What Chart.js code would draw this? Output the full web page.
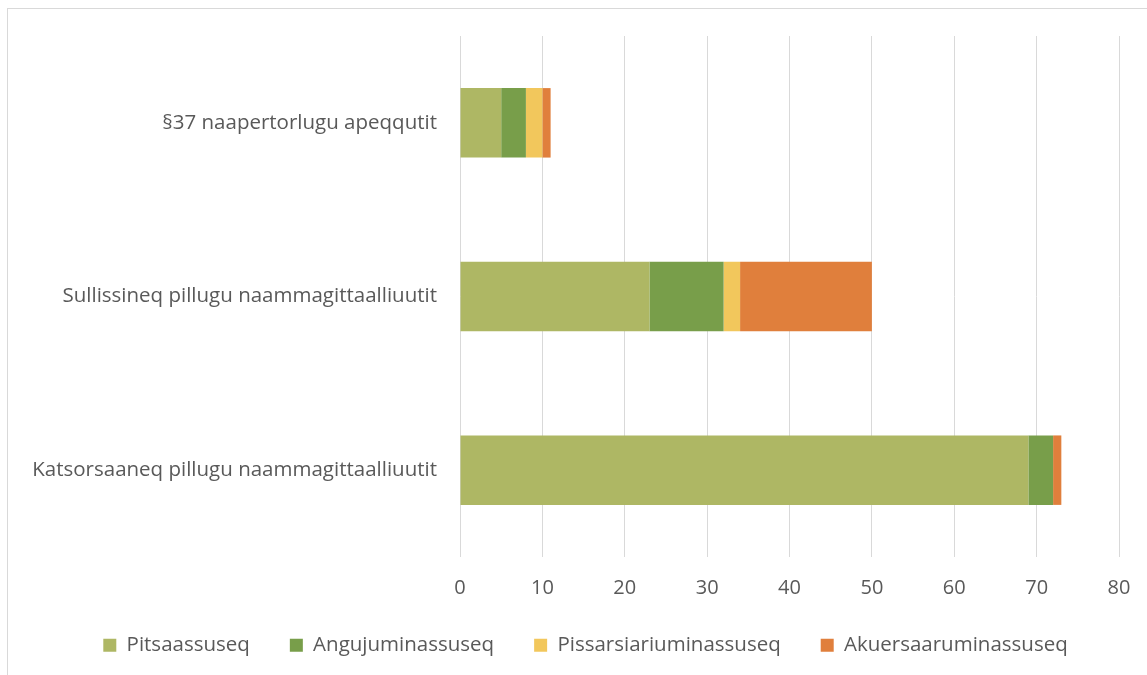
<!DOCTYPE html>
<html>
<head>
<meta charset="utf-8">
<script src="https://cdn.jsdelivr.net/npm/chart.js@4.4.0/dist/chart.umd.min.js"></script>
<style>
  html, body { margin: 0; padding: 0; background: #fff; overflow: hidden; }
  #frame {
    position: absolute; left: 7px; top: 8px;
    width: 1200px; height: 720px;
    border: 1px solid #d9d9d9;
  }
  #wrap { position: absolute; left: 0; top: 0; width: 1172px; height: 675px; }
</style>
</head>
<body>
<div id="frame"></div>
<div id="wrap"><canvas id="chart"></canvas></div>
<script>
// categories (top to bottom)
const categories = [
  "§37 naapertorlugu apeqqutit",
  "Sullissineq pillugu naammagittaalliuutit",
  "Katsorsaaneq pillugu naammagittaalliuutit"
]

// series values
const pitsaassuseq = [5, 23, 69]
const angujuminassuseq = [3, 9, 3]
const pissarsiariuminassuseq = [2, 2, 0]
const akuersaaruminassuseq = [1, 16, 1]

const xTicks = [0, 10, 20, 30, 40, 50, 60, 70, 80]

const textColor = "#595959"
const fontFamily = "'Open Sans', sans-serif"

// legend sits centred on the whole frame, a bit closer to the axis labels
const legendShift = {
  id: "legendShift",
  afterLayout(chart) {
    if (chart.legend) {
      chart.legend.top -= 5
      chart.legend.bottom -= 5
      chart.legend.left += 26
      chart.legend.right += 26
    }
  },
}

const ctx = document.getElementById("chart")
new Chart(ctx, {
  type: "bar",
  data: {
    labels: categories,
    datasets: [
      { label: "Pitsaassuseq", data: pitsaassuseq, backgroundColor: "#aeb764" },
      { label: "Angujuminassuseq", data: angujuminassuseq, backgroundColor: "#789e4a" },
      { label: "Pissarsiariuminassuseq", data: pissarsiariuminassuseq, backgroundColor: "#f2c75c" },
      { label: "Akuersaaruminassuseq", data: akuersaaruminassuseq, backgroundColor: "#e07f3c" },
    ],
  },
  options: {
    indexAxis: "y",
    responsive: true,
    maintainAspectRatio: false,
    animation: false,
    barPercentage: 0.4,
    categoryPercentage: 1,
    layout: { padding: { top: 36, right: 53, left: 0, bottom: 4.5 } },
    scales: {
      x: {
        stacked: true,
        min: 0,
        max: 80,
        afterBuildTicks: (scale) => {
          scale.ticks = xTicks.map((v) => ({ value: v }))
        },
        afterFit: (scale) => {
          scale.height = 43
        },
        grid: { color: "#d9d9d9", drawTicks: false, lineWidth: 1 },
        border: { display: false },
        ticks: {
          color: textColor,
          padding: 19,
          font: { family: fontFamily, size: 20 },
        },
      },
      y: {
        stacked: true,
        grid: { display: false, drawTicks: false },
        border: { display: false },
        afterFit: (scale) => {
          scale.width = 460
        },
        ticks: {
          color: textColor,
          padding: 23,
          font: { family: fontFamily, size: 20.5 },
        },
      },
    },
    plugins: {
      tooltip: { enabled: false },
      legend: {
        position: "bottom",
        labels: {
          color: textColor,
          boxWidth: 13,
          boxHeight: 13,
          padding: 40,
          font: { family: fontFamily, size: 20.5 },
        },
      },
    },
  },
  plugins: [legendShift],
})
</script>
</body>
</html>
